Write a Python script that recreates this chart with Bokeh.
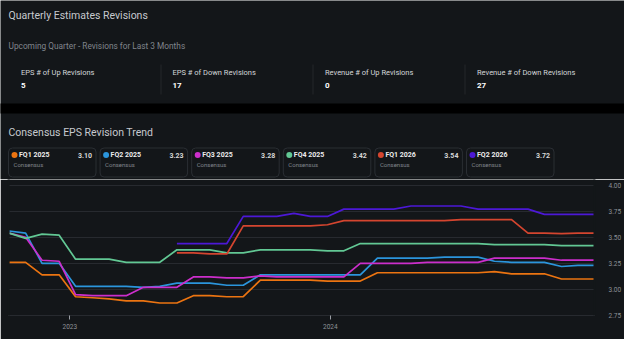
import numpy as np
import pandas as pd
from bokeh.plotting import figure
from bokeh.layouts import column
from bokeh.models import (FixedTicker, DatetimeTickFormatter, NumeralTickFormatter, Range1d,
                          ColumnDataSource, LinearAxis)
from bokeh.core.properties import value
from bokeh.embed import file_html
from bokeh.resources import INLINE

# ---------------- data ----------------
dates = ["2022-10-08", "2022-10-31", "2022-11-23", "2022-12-17", "2023-01-09", "2023-02-02",
         "2023-02-25", "2023-03-21", "2023-04-14", "2023-05-07", "2023-05-31", "2023-06-23",
         "2023-07-16", "2023-08-09", "2023-09-01", "2023-09-25", "2023-10-18", "2023-11-11",
         "2023-12-04", "2023-12-28", "2024-01-20", "2024-02-12", "2024-03-07", "2024-03-30",
         "2024-04-23", "2024-05-16", "2024-06-09", "2024-07-02", "2024-07-26", "2024-08-18",
         "2024-09-11", "2024-10-04", "2024-10-27", "2024-11-20", "2024-12-13", "2025-01-05"]

fq1_2025 = [3.26, 3.26, 3.14, 3.14, 2.93, 2.92, 2.91, 2.89, 2.89, 2.87, 2.87, 2.94, 2.94, 2.93, 2.93,
            3.09, 3.09, 3.09, 3.09, 3.08, 3.08, 3.08, 3.16, 3.16, 3.16, 3.16, 3.16, 3.16, 3.16, 3.17,
            3.15, 3.15, 3.15, 3.10, 3.10, 3.10]
fq2_2025 = [3.56, 3.54, 3.25, 3.25, 3.03, 3.03, 3.03, 3.03, 3.02, 3.03, 3.06, 3.06, 3.06, 3.04, 3.04,
            3.14, 3.14, 3.14, 3.14, 3.14, 3.14, 3.14, 3.30, 3.30, 3.30, 3.30, 3.31, 3.31, 3.31, 3.27,
            3.26, 3.26, 3.26, 3.22, 3.23, 3.23]
fq3_2025 = [3.54, 3.50, 3.28, 3.27, 2.95, 2.94, 2.94, 2.94, 3.02, 3.02, 3.02, 3.12, 3.12, 3.11, 3.11,
            3.13, 3.12, 3.12, 3.12, 3.12, 3.12, 3.25, 3.25, 3.25, 3.25, 3.26, 3.26, 3.26, 3.26, 3.30,
            3.30, 3.30, 3.30, 3.28, 3.28, 3.28]
fq4_2025 = [3.54, 3.49, 3.53, 3.52, 3.29, 3.29, 3.29, 3.26, 3.26, 3.26, 3.38, 3.38, 3.38, 3.35, 3.35,
            3.38, 3.38, 3.38, 3.38, 3.37, 3.37, 3.44, 3.44, 3.44, 3.44, 3.44, 3.44, 3.44, 3.44, 3.43,
            3.43, 3.43, 3.43, 3.42, 3.42, 3.42]
fq1_2026 = [None] * 10 + [3.35, 3.35, 3.34, 3.34, 3.61, 3.61, 3.61, 3.61, 3.61, 3.62,
                          3.66, 3.66, 3.66, 3.66, 3.66, 3.66, 3.66, 3.67, 3.67, 3.67,
                          3.67, 3.54, 3.54, 3.535, 3.54, 3.54]
fq2_2026 = [None] * 10 + [3.44, 3.44, 3.44, 3.44, 3.70, 3.70, 3.70, 3.73, 3.70, 3.70,
                          3.77, 3.77, 3.77, 3.77, 3.80, 3.80, 3.80, 3.80, 3.77, 3.77,
                          3.77, 3.77, 3.72, 3.72, 3.72, 3.72]

series_names = ["FQ1 2025", "FQ2 2025", "FQ3 2025", "FQ4 2025", "FQ1 2026", "FQ2 2026"]
series_values = [fq1_2025, fq2_2025, fq3_2025, fq4_2025, fq1_2026, fq2_2026]
series_latest = ["3.10", "3.23", "3.28", "3.42", "3.54", "3.72"]
series_colors = ["#ec7411", "#2b95dc", "#cc2ecb", "#62c894", "#d4452f", "#4c18d6"]

stat_labels = ["EPS # of Up Revisions", "EPS # of Down Revisions",
               "Revenue # of Up Revisions", "Revenue # of Down Revisions"]
stat_values = ["5", "17", "0", "27"]

y_ticks = [2.75, 3.00, 3.25, 3.50, 3.75, 4.00]
x_ticks = ["2023-01-01", "2024-01-01"]
x_start, x_end = "2022-10-07", "2025-01-05 05:00"

# ---------------- style ----------------
PANEL = "#131619"
GRID = "#272a2f"
FONT = "Roboto"
W = 624

# ---------------- header (panel 1 + title/legend of panel 2) ----------------
# pixel-space figure: x 8..632, y 8..187 (downwards)
h = figure(width=W, height=179, x_range=Range1d(8, 632), y_range=Range1d(187, 8),
           x_axis_location=None, y_axis_location=None, output_backend="svg",
           toolbar_location=None, min_border=0, outline_line_color=None,
           background_fill_color=PANEL, border_fill_color=PANEL)
h.grid.visible = False
h.frame_align = False


def txt(xs, ys, texts, size, color, style="normal", align="left"):
    h.text(x=xs, y=ys, text=texts, text_font=value(FONT), text_font_size=value(f"{size}px"),
           text_color=color, text_font_style=style, text_align=align, text_baseline="middle")


# black gap between panels
h.quad(left=[0], right=[640], top=[111], bottom=[121], fill_color="#000000", line_color=None)

txt([16], [23], ["Quarterly Estimates Revisions"], 10.5, "#c6c9ce")
txt([16], [53], ["Upcoming Quarter - Revisions for Last 3 Months"], 8.3, "#80858c")
stat_x = [28.5, 180, 332.5, 484.5]
txt(stat_x, [80] * 4, stat_labels, 7.5, "#d3d6da")
txt(stat_x, [93] * 4, stat_values, 8, "#ffffff", style="bold")
div_x = [168.5, 320.5, 472.5]
h.segment(x0=div_x, x1=div_x, y0=[72] * 3, y1=[102] * 3, line_color="#24272b", line_width=1)

txt([16], [140], ["Consensus EPS Revision Trend"], 10.5, "#c6c9ce")
lefts = [16 + 91.6 * i for i in range(len(series_names))]
h.quad(left=lefts, right=[l + 87.5 for l in lefts], top=[155.5] * 6, bottom=[184.5] * 6,
       fill_alpha=0, line_color="#2a2e33", line_width=1, border_radius=4)
h.scatter(x=[l + 6 for l in lefts], y=[162.5] * 6, size=6, marker="circle",
          fill_color=series_colors, line_color=None)
txt([l + 10.5 for l in lefts], [162.5] * 6, series_names, 7, "#ececec", style="bold")
txt([l + 83.5 for l in lefts], [162.5] * 6, series_latest, 7, "#d6d6d6", style="bold",
    align="right")
txt([l + 5 for l in lefts], [171.5] * 6, ["Consensus"] * 6, 6, "#80858c")

# ---------------- chart ----------------
x = pd.to_datetime(dates)

p = figure(width=W, height=160, x_axis_type="datetime", y_axis_location="right",
           x_range=Range1d(pd.Timestamp(x_start), pd.Timestamp(x_end)),
           y_range=Range1d(2.75, 4.054),
           output_backend="svg", toolbar_location=None,
           min_border_left=8, min_border_right=29, min_border_top=0, min_border_bottom=24,
           background_fill_color=PANEL, border_fill_color=PANEL, outline_line_color=None)
p.frame_align = False

for name, vals, col in zip(series_names, series_values, series_colors):
    y = np.array([np.nan if v is None else v for v in vals], dtype=float)
    src = ColumnDataSource(dict(x=x, y=y))
    p.line("x", "y", source=src, line_color=col, line_width=1.7)

xt = [pd.Timestamp(t).value / 1e6 for t in x_ticks]
p.xaxis.ticker = FixedTicker(ticks=xt, minor_ticks=[])
p.xaxis.formatter = DatetimeTickFormatter(years="%Y", months="%Y", days="%Y", hours="%Y")
p.xaxis.axis_line_color = GRID
p.xaxis.major_tick_line_color = "#9a9ea4"
p.xaxis.major_tick_in = 0
p.xaxis.major_tick_out = 4
p.xaxis.minor_tick_line_color = None
p.xaxis.major_label_text_color = "#8d9197"
p.xaxis.major_label_text_font = FONT
p.xaxis.major_label_text_font_size = "6.5px"
p.xaxis.major_label_standoff = 4

p.yaxis.ticker = FixedTicker(ticks=y_ticks)
p.yaxis.formatter = NumeralTickFormatter(format="0.00")
p.yaxis.axis_line_color = PANEL
p.yaxis.axis_line_width = 2
p.yaxis.major_tick_line_color = None
p.yaxis.minor_tick_line_color = None
p.yaxis.major_label_text_color = "#8d9197"
p.yaxis.major_label_text_font = FONT
p.yaxis.major_label_text_font_size = "6.5px"
p.yaxis.major_label_standoff = 8

# invisible left axis whose line hides the frame edge
p.add_layout(LinearAxis(ticker=FixedTicker(ticks=[]), axis_line_color=PANEL, axis_line_width=2,
                        major_tick_line_color=None, minor_tick_line_color=None,
                        major_tick_out=0, major_label_standoff=0), "left")

p.xgrid.visible = False
p.ygrid.grid_line_color = GRID
p.ygrid.grid_line_width = 1

root = column(h, p, spacing=0)
open("out.html", "w").write(file_html(root, INLINE))
